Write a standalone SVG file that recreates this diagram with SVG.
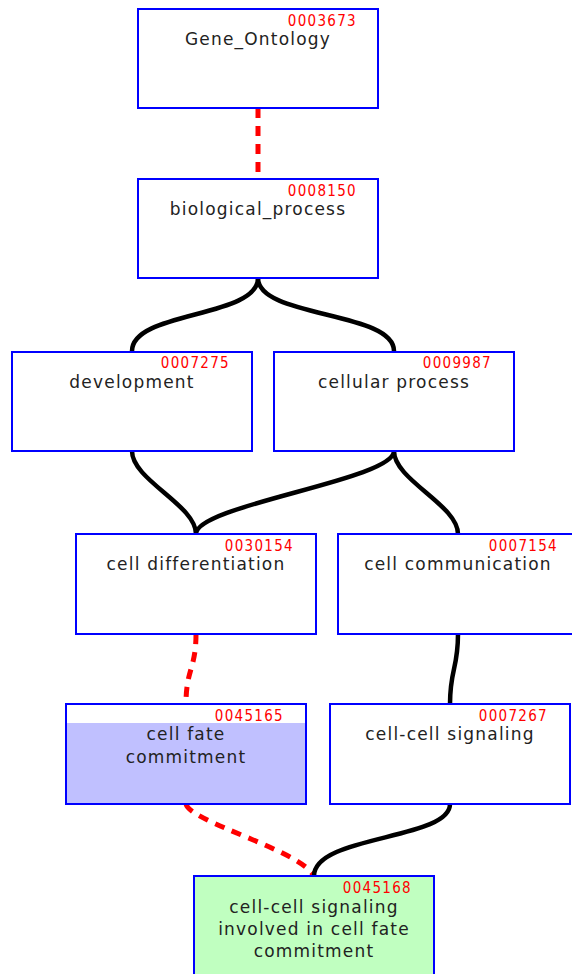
<svg xmlns="http://www.w3.org/2000/svg" width="572" height="974" viewBox="0 0 572 974">
<style>
.box{fill:#fff;stroke:#0000ff;stroke-width:2}
.lbl{font-family:"DejaVu Sans",sans-serif;font-size:17px;fill:#222;text-anchor:middle;letter-spacing:1.2px}
.gid{font-family:"DejaVu Sans Condensed","DejaVu Sans",sans-serif;font-size:15px;fill:#ff0000;text-anchor:end;letter-spacing:1.3px}
.solid{fill:none;stroke:#000;stroke-width:4.5}
.dash{fill:none;stroke:#ff0000;stroke-width:5;stroke-dasharray:10 8}
</style>
<rect width="572" height="974" fill="#fff"/>
<g id="connectors">
<path class="dash" d="M258,108 L258,179"/>
<path class="solid" d="M258,278 C258,318 132,311 132,351"/>
<path class="solid" d="M258,278 C258,318 394,311 394,351"/>
<path class="solid" d="M132,451 C132,480 196,505 196,534"/>
<path class="solid" d="M394,451 C394,480 196,505 196,534"/>
<path class="solid" d="M394,451 C394,480 458,505 458,534"/>
<path class="dash" d="M196,634 C196,669 186,669 186,704"/>
<path class="solid" d="M458,634 C458,669 450,669 450,704"/>
<path class="dash" d="M186,804 C190,822 300,850 314,876"/>
<path class="solid" d="M450,804 C450,840 314,835 314,876"/>
</g>
<g id="n0003673">
<rect class="box" x="138" y="9" width="240" height="99"/>
<text class="gid" x="357" y="26">0003673</text>
<text class="lbl" x="258" y="45">Gene_Ontology</text>
</g>
<g id="n0008150">
<rect class="box" x="138" y="179" width="240" height="99"/>
<text class="gid" x="357" y="196">0008150</text>
<text class="lbl" x="258" y="215">biological_process</text>
</g>
<g id="n0007275">
<rect class="box" x="12" y="352" width="240" height="99"/>
<text class="gid" x="230" y="368">0007275</text>
<text class="lbl" x="132" y="388">development</text>
</g>
<g id="n0009987">
<rect class="box" x="274" y="352" width="240" height="99"/>
<text class="gid" x="492" y="368">0009987</text>
<text class="lbl" x="394" y="388">cellular process</text>
</g>
<g id="n0030154">
<rect class="box" x="76" y="534" width="240" height="100"/>
<text class="gid" x="294" y="551">0030154</text>
<text class="lbl" x="196" y="570">cell differentiation</text>
</g>
<g id="n0007154">
<rect class="box" x="338" y="534" width="240" height="100"/>
<text class="gid" x="558" y="551">0007154</text>
<text class="lbl" x="458" y="570">cell communication</text>
</g>
<g id="n0045165">
<rect class="box" x="66" y="704" width="240" height="100"/>
<rect x="67" y="723" width="238" height="80" fill="#c0c0ff"/>
<text class="gid" x="284" y="721">0045165</text>
<text class="lbl" x="186" y="740">cell fate</text>
<text class="lbl" x="186" y="763">commitment</text>
</g>
<g id="n0007267">
<rect class="box" x="330" y="704" width="240" height="100"/>
<text class="gid" x="548" y="721">0007267</text>
<text class="lbl" x="450" y="740">cell-cell signaling</text>
</g>
<g id="n0045168">
<rect class="box" x="194" y="876" width="240" height="100" style="fill:#c0ffc0"/>
<text class="gid" x="412" y="893">0045168</text>
<text class="lbl" x="314" y="913">cell-cell signaling</text>
<text class="lbl" x="314" y="935">involved in cell fate</text>
<text class="lbl" x="314" y="957">commitment</text>
</g>
</svg>
